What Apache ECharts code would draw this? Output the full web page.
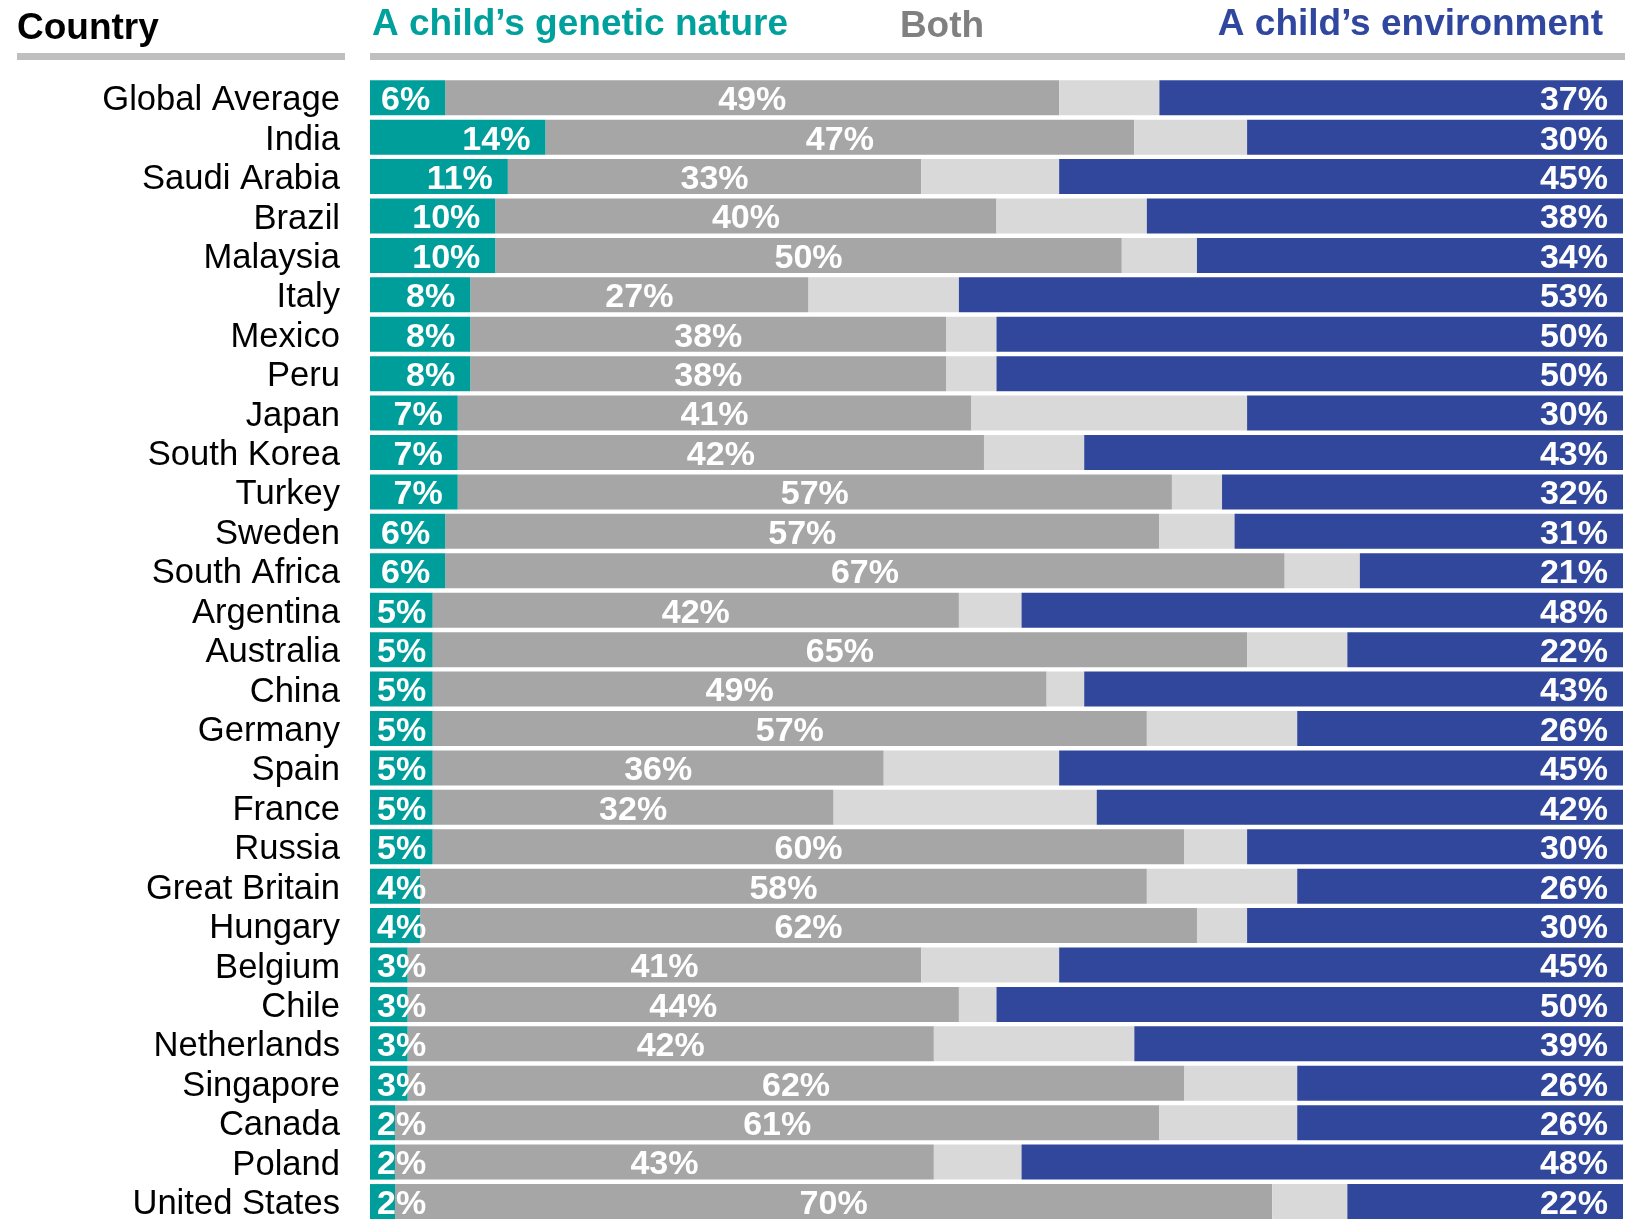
<!DOCTYPE html>
<html>
<head>
<meta charset="utf-8">
<script src="https://cdn.jsdelivr.net/npm/echarts@6/dist/echarts.min.js"></script>
<style>
html,body{margin:0;padding:0;background:#fff;}
#chart{width:1635px;height:1222px;}
</style>
</head>
<body>
<div id="chart"></div>
<script>
const countries = ["Global Average","India","Saudi Arabia","Brazil","Malaysia","Italy","Mexico","Peru","Japan","South Korea","Turkey","Sweden","South Africa","Argentina","Australia","China","Germany","Spain","France","Russia","Great Britain","Hungary","Belgium","Chile","Netherlands","Singapore","Canada","Poland","United States"];
const genetic = [6,14,11,10,10,8,8,8,7,7,7,6,6,5,5,5,5,5,5,5,4,4,3,3,3,3,2,2,2];
const both = [49,47,33,40,50,27,38,38,41,42,57,57,67,42,65,49,57,36,32,60,58,62,41,44,42,62,61,43,70];
const unsure = [8,9,11,12,6,12,4,4,22,8,4,6,6,5,8,3,12,14,21,5,12,4,11,3,16,9,11,7,6];
const environment = [37,30,45,38,34,53,50,50,30,43,32,31,21,48,22,43,26,45,42,30,26,30,45,50,39,26,26,48,22];

const FONT = "'Liberation Sans', Arial, sans-serif";
const TEAL = '#009E9A', DGRAY = '#A6A6A6', LGRAY = '#D9D9D9', BLUE = '#30479C';

const labelBase = {show:true, color:'#fff', fontFamily:FONT, fontWeight:'bold', fontSize:34, offset:[0,3], formatter: p => p.value + '%'};

const tealData = genetic.map(v => ({
  value: v,
  label: v >= 6 ? {position:'insideRight', distance:15} : {position:'insideLeft', distance:7}
}));

const chart = echarts.init(document.getElementById('chart'), null, {renderer:'canvas'});
chart.setOption({
  animation:false,
  backgroundColor:'#fff',
  grid:{left:370, right:12, top:78, height:1146, containLabel:false},
  xAxis:{type:'value', min:0, max:100, show:false},
  yAxis:{
    type:'category', data:countries, inverse:true,
    axisLine:{show:false}, axisTick:{show:false}, splitLine:{show:false},
    axisLabel:{
      color:'#000', fontFamily:FONT, fontSize:34.6, margin:30, interval:0,
      formatter: v => '{c|' + v + '}',
      rich:{c:{color:'#000', fontFamily:FONT, fontSize:34.6, padding:[6,0,0,0]}}
    }
  },
  series:[
    {name:'genetic', type:'bar', stack:'s', data:tealData, barWidth:35, itemStyle:{color:TEAL}, label:Object.assign({}, labelBase), z:3},
    {name:'both', type:'bar', stack:'s', data:both, itemStyle:{color:DGRAY}, label:Object.assign({}, labelBase, {position:'inside'}), z:2},
    {name:'unsure', type:'bar', stack:'s', data:unsure, itemStyle:{color:LGRAY}, label:{show:false}, z:2},
    {name:'environment', type:'bar', stack:'s', data:environment, itemStyle:{color:BLUE}, label:Object.assign({}, labelBase, {position:'insideRight', distance:15}), z:2}
  ],
  graphic:[
    {type:'rect', shape:{x:17, y:53, width:328, height:7}, style:{fill:'#BFBFBF'}},
    {type:'rect', shape:{x:370, y:53, width:1255, height:7}, style:{fill:'#BFBFBF'}},
    {type:'text', x:17, y:29, style:{text:'Country', fill:'#000', font:"bold 37px " + FONT, textVerticalAlign:'middle', textAlign:'left'}},
    {type:'text', x:372, y:25, style:{text:'A child’s genetic nature', fill:'#00A19C', font:"bold 37px " + FONT, textVerticalAlign:'middle', textAlign:'left'}},
    {type:'text', x:942, y:27, style:{text:'Both', fill:'#808080', font:"bold 37px " + FONT, textVerticalAlign:'middle', textAlign:'center'}},
    {type:'text', x:1603, y:25, style:{text:'A child’s environment', fill:'#2F479E', font:"bold 37px " + FONT, textVerticalAlign:'middle', textAlign:'right'}}
  ]
});
</script>
</body>
</html>
